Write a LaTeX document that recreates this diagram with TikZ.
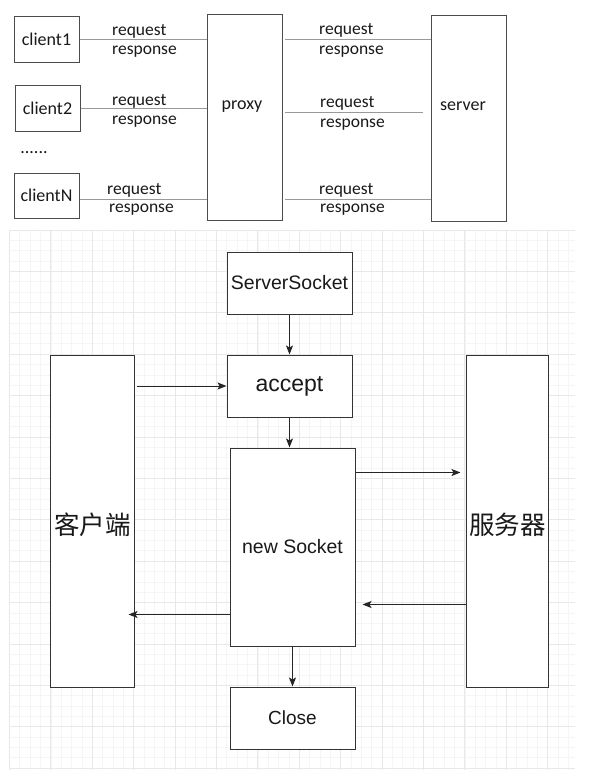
\documentclass[tikz,border=0pt]{standalone}
\usepackage{fontspec}
\setmainfont{Carlito}
\newfontfamily\arialf{Liberation Sans}
\newfontfamily\cjk{Noto Sans CJK SC}
\usetikzlibrary{arrows.meta}
\begin{document}
\begin{tikzpicture}[x=1pt,y=-1pt,
  gridminor/.style={draw=black!4, line width=0.8pt},
  gridmajor/.style={draw=black!9, line width=0.9pt},
  topbox/.style={draw=black!70, line width=1pt, fill=white, inner sep=0pt, text=black!90, font=\fontsize{18}{20}\selectfont},
  toptext/.style={inner sep=0pt, text=black!90, font=\fontsize{18}{20}\selectfont},
  lbl/.style={anchor=base west, inner sep=0pt, text=black!90, font=\fontsize{17.5}{20}\selectfont},
  tline/.style={draw=black!40, line width=1pt},
  botbox/.style={draw=black!80, line width=1pt, fill=white, inner sep=0pt, text=black!90},
  arr/.style={draw=black!85, line width=1pt, -{Stealth[length=9pt,width=7pt,inset=2pt]}}
]
\useasboundingbox (0,0) rectangle (591,782);
\fill[white] (0,0) rectangle (591,782);

% ---------- top diagram ----------
\node[topbox, minimum width=65pt, minimum height=46pt] (c1) at (46.5,39) {client1};
\node[topbox, minimum width=65pt, minimum height=46pt] (c2) at (47.5,108) {client2};
\node[toptext] (dots) at (34,153) {......};
\node[topbox, minimum width=65pt, minimum height=45pt] (cN) at (46.5,195.5) {clientN};
\node[topbox, minimum width=75pt, minimum height=206pt] (proxy) at (244.5,117) {};
\node[toptext] (proxytxt) at (242,107) {proxy};
\node[topbox, minimum width=75pt, minimum height=206pt] (server) at (468.5,118) {};
\node[toptext] (servertxt) at (463,106) {server};

\coordinate (pr1) at (282,39);
\coordinate (pr2) at (282,112);
\coordinate (pr3) at (282,199);

\draw[tline] (c1.east) -- (c1.east -| proxy.west);
\draw[tline] (c2.east) -- (c2.east -| proxy.west);
\draw[tline] ([yshift=-4pt]cN.east) -- ([yshift=-4pt]cN.east -| proxy.west);
\draw[tline, shorten <=3pt] (pr1) -- (pr1 -| server.west);
\draw[tline, shorten <=3pt, shorten >=8pt] (pr2) -- (pr2 -| server.west);
\draw[tline, shorten <=3pt] (pr3) -- (pr3 -| server.west);

\node[lbl] (q1) at (112,35) {request};
\node[lbl] (r1) at (112,54) {response};
\node[lbl] (q2) at (112,105) {request};
\node[lbl] (r2) at (112,124) {response};
\node[lbl] (q3) at (107,194) {request};
\node[lbl] (r3) at (109,212) {response};
\node[lbl] (q4) at (319,34) {request};
\node[lbl] (r4) at (319,54) {response};
\node[lbl] (q5) at (320,107) {request};
\node[lbl] (r5) at (320,127) {response};
\node[lbl] (q6) at (319,194) {request};
\node[lbl] (r6) at (320,212) {response};

% ---------- grid ----------
\foreach \i in {0,...,54} \draw[gridminor] ({9.5+10.35*\i},230) -- ({9.5+10.35*\i},770);
\foreach \j in {0,...,52} \draw[gridminor] (9.5,{230+10.35*\j}) -- (575,{230+10.35*\j});
\foreach \i in {0,...,13} \draw[gridmajor] ({9.5+41.4*\i},230) -- ({9.5+41.4*\i},770);
\foreach \j in {0,...,13} \draw[gridmajor] (9.5,{230+41.4*\j}) -- (575,{230+41.4*\j});

% ---------- bottom diagram ----------
\node[botbox, minimum width=125pt, minimum height=62pt, font=\arialf\fontsize{19.5}{22}\selectfont] (ss) at (289.5,283) {ServerSocket};
\node[botbox, minimum width=125pt, minimum height=62pt, font=\arialf\fontsize{23}{26}\selectfont] (acc) at (289.5,386) {accept};
\node[botbox, minimum width=84pt, minimum height=332pt, font=\cjk\fontsize{25.5}{28}\selectfont] (cli) at (92,521) {};
\node[inner sep=0pt, text=black!90, font=\cjk\fontsize{25.5}{28}\selectfont] (clitxt) at (92.5,525) {客户端};
\node[botbox, minimum width=82pt, minimum height=332pt] (srv) at (507,521) {};
\node[inner sep=0pt, text=black!90, font=\cjk\fontsize{25.5}{28}\selectfont] (srvtxt) at (507.5,525) {服务器};
\node[botbox, minimum width=125pt, minimum height=198pt, font=\arialf\fontsize{19.5}{22}\selectfont] (ns) at (292.5,547) {new Socket};
\node[botbox, minimum width=125pt, minimum height=62pt, font=\arialf\fontsize{19}{22}\selectfont] (cl) at (292.5,718) {Close};

\draw[arr] (ss.south) -- (acc.north);
\draw[arr, shorten <=2pt] (acc.west -| cli.east) -- (acc.west);
\draw[arr] (acc.south) -- (acc.south |- ns.north);
\draw[arr, shorten >=5pt] ([yshift=-25pt]ns.north east) -- ([yshift=-25pt]ns.north east -| srv.west);
\draw[arr, shorten >=7pt] ([yshift=42pt]ns.south east -| srv.west) -- ([yshift=42pt]ns.south east);
\draw[arr, shorten >=-6pt] ([yshift=32pt]ns.south west) -- ([yshift=32pt]ns.south west -| cli.east);
\draw[arr] (ns.south) -- (cl.north);
\end{tikzpicture}
\end{document}
